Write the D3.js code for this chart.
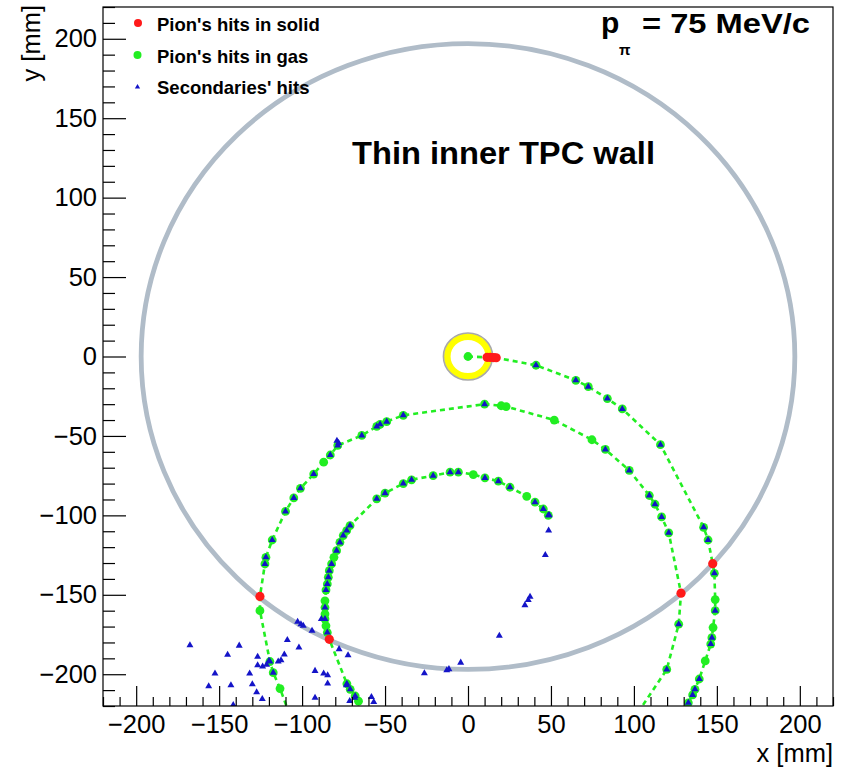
<!DOCTYPE html>
<html><head><meta charset="utf-8">
<script src="https://cdn.jsdelivr.net/npm/d3@7"></script>
<style>body{margin:0;background:#fff}svg{display:block}</style>
</head><body>
<svg id="c" width="850" height="771"></svg>
<script>
// ---------------- data (mm) ----------------
const xDomain = [-220, 220];
const yDomain = [-220, 220];
const xMajorTicks = [-200, -150, -100, -50, 0, 50, 100, 150, 200];
const yMajorTicks = [-200, -150, -100, -50, 0, 50, 100, 150, 200];
const minorStep = 10;

const wallRadius = 197;          // thin inner TPC wall
const beamPipeInner = 10.5;      // inner solid (yellow) ring
const beamPipeOuter = 14.5;

const legendLabels = ["Pion's hits in solid", "Pion's hits in gas", "Secondaries' hits"];
const titleText = "Thin inner TPC wall";
const momentumText = "= 75 MeV/c";

// pion trajectory segments: [x, y, kind]; kind: g = gas hit, t = gas hit + secondary, s = solid hit
const segmentA = [
  [0,0,"g"],[11.5,-0.5,"s"],[13.5,-0.6,"s"],[15.5,-0.7,"s"],[17,-0.8,"s"],
  [41,-5.5,"t"],[65,-15,"t"],[72.5,-19,"t"],[84,-26.5,"t"],[93,-33,"t"],[116,-55.5,"t"],
  [142,-107.5,"t"],[144.7,-115.5,"t"],[147.5,-130.4,"s"],[148.5,-136.5,"t"],[149,-153,"g"],
  [149,-160,"t"],[147.7,-170.6,"g"],[147,-177,"t"],[146.3,-181,"t"],[143,-191.6,"g"],
  [139.4,-203,"t"],[136.8,-209.5,"t"],[135.4,-213,"t"],[132.8,-218,"t"],[131,-224,"g"]
];
const segmentB = [
  [102.5,-224,"g"],[119.8,-197,"t"],[127,-168.5,"t"],[128.4,-149,"s"],[121,-111,"t"],
  [116.7,-101,"t"],[112.7,-93,"t"],[109.3,-87.5,"t"],[97.2,-71.7,"t"],[82.8,-58.5,"t"],
  [74.7,-52.4,"g"],[52,-40,"g"],[23,-31.5,"g"],[20,-31,"g"],[10,-30,"t"],
  [-39,-37,"t"],[-49,-41,"t"],[-53,-42.7,"t"],[-55,-44,"t"],[-64,-49.7,"t"],[-78.5,-56,"t"],
  [-83,-62,"t"],[-87,-66.5,"g"],[-93,-74,"t"],[-101,-83,"t"],[-105,-89,"t"],[-110,-97.5,"t"],
  [-118,-115.5,"t"],[-121.8,-126.4,"t"],[-122.4,-130.6,"t"],[-125.4,-151,"s"],[-125.4,-160,"g"],
  [-119.4,-192,"t"],[-117.4,-199,"t"],[-113.3,-209,"g"],[-108,-224,"g"]
];
const segmentC = [
  [-63,-224,"g"],[-66,-217,"g"],[-68,-213.7,"t"],[-71,-209.5,"t"],[-73,-206,"t"],
  [-83.6,-178,"s"],[-84.8,-173.8,"t"],[-85.6,-169.5,"g"],[-86.2,-165.3,"t"],[-86.2,-162.1,"g"],
  [-86.2,-158,"t"],[-86.2,-153.8,"g"],[-85.6,-147,"t"],[-84.8,-143.2,"t"],[-84.2,-139,"t"],
  [-83.6,-134.8,"t"],[-82.2,-130.6,"t"],[-80.8,-126.4,"g"],[-79.2,-122.2,"t"],[-77.2,-117,"t"],
  [-75.2,-112.7,"t"],[-73.1,-109.6,"t"],[-71.1,-106.4,"t"],
  [-55,-89.6,"t"],[-50,-86,"t"],[-39,-80,"t"],[-34,-77.6,"t"],[-21,-75,"t"],
  [-10.8,-72.8,"t"],[-5.8,-72.8,"t"],[3.2,-74.3,"g"],[10.2,-76.4,"t"],[18.3,-78.5,"t"],
  [25.3,-82.3,"t"],[35.4,-88,"g"],[40.4,-91.7,"t"],[45.4,-96,"t"],[48.4,-100,"t"]
];

// secondaries' hits away from the pion track
const secondaryX = [-79,-78,49,48.6,46.6,37.4,36.3,34.3,18.9,-4.4,-11.5,-12.8,-26.3,
  -167.6,-137.9,-144.9,-152.5,-156.3,-142.9,-141.5,-131.6,-130,-126.8,-126.8,-127.4,-124,
  -123.8,-121.4,-120,-114.4,-112.7,-110.7,-108.9,-101.9,-102.7,-100.7,-99.3,-94,-92.2,-87,
  -84.6,-84.6,-92.2,-88.4,-77.7,-72.3,-73.3,-71.3,-58.2,-56.8,-68.3];
const secondaryY = [-53,-54.5,-100,-109.6,-125,-151.2,-153.3,-156.5,-175.8,-192.7,-196.8,-197.5,-199.4,
  -181.7,-182,-187.8,-199.6,-207.6,-207,-219.4,-199.6,-206.3,-189,-194.3,-211.4,-215.6,
  -195.2,-194.1,-191.6,-192,-191.2,-187.6,-178.4,-183.2,-167,-168.5,-169.5,-172.7,-197.9,-199.6,
  -200.6,-205.9,-214.8,-165.3,-184.2,-188,-207,-216.8,-214.3,-217.5,-214.8];

// ---------------- drawing ----------------
const svg = d3.select("#c");
const W = 850, H = 771;
const plot = {left: 103, right: 833, top: 7, bottom: 706};
const x = d3.scaleLinear().domain(xDomain).range([plot.left, plot.right]);
const y = d3.scaleLinear().domain(yDomain).range([plot.bottom, plot.top]);

const COL_RED = "#ff1a1a", COL_GREEN = "#22ee22", COL_BLUE = "#1414c8";
const COL_WALL = "#b0bcc8";
const font = "'Liberation Sans', Arial, Helvetica, sans-serif";

svg.append("rect").attr("width", W).attr("height", H).attr("fill", "#fff");

svg.append("defs").append("clipPath").attr("id", "clip")
  .append("rect").attr("x", plot.left).attr("y", plot.top)
  .attr("width", plot.right - plot.left).attr("height", plot.bottom - plot.top);

const g = svg.append("g").attr("clip-path", "url(#clip)");

// wall circle (ellipse in pixel space since scales differ)
const rx = r => x(r) - x(0), ry = r => y(0) - y(r);
g.append("ellipse").attr("cx", x(0)).attr("cy", y(0))
  .attr("rx", rx(wallRadius)).attr("ry", ry(wallRadius))
  .attr("fill", "none").attr("stroke", COL_WALL).attr("stroke-width", 4.8);

// inner solid ring
const midR = (beamPipeInner + beamPipeOuter) / 2;
g.append("ellipse").attr("cx", x(0)).attr("cy", y(0))
  .attr("rx", rx(midR)).attr("ry", ry(midR))
  .attr("fill", "none").attr("stroke", "#ffff00")
  .attr("stroke-width", rx(beamPipeOuter - beamPipeInner));
g.append("ellipse").attr("cx", x(0)).attr("cy", y(0))
  .attr("rx", rx(beamPipeOuter) + 0.5).attr("ry", ry(beamPipeOuter) + 0.5)
  .attr("fill", "none").attr("stroke", "#a9a9a9").attr("stroke-width", 1.6);

// dashed trajectory
const segments = [segmentA, segmentB, segmentC];
const line = d3.line().x(d => x(d[0])).y(d => y(d[1]));
segments.forEach(seg => {
  g.append("path").attr("d", line(seg)).attr("fill", "none")
    .attr("stroke", COL_GREEN).attr("stroke-width", 2.6)
    .attr("stroke-dasharray", "5,4");
});

const allHits = segments.flat();
const gasHits = allHits.filter(d => d[2] !== "s");
const solidHits = allHits.filter(d => d[2] === "s");
const secOnTrack = allHits.filter(d => d[2] === "t");
const secOff = secondaryX.map((v, i) => [v, secondaryY[i]]);

g.selectAll("circle.gas").data(gasHits).join("circle").attr("class", "gas")
  .attr("cx", d => x(d[0])).attr("cy", d => y(d[1])).attr("r", 4.4).attr("fill", COL_GREEN);

const tri = d3.symbol().type(d3.symbolTriangle).size(21);
g.selectAll("path.sec").data(secOnTrack.concat(secOff)).join("path").attr("class", "sec")
  .attr("d", tri).attr("transform", d => `translate(${x(d[0])},${y(d[1])})`)
  .attr("fill", COL_BLUE);

g.selectAll("circle.solid").data(solidHits).join("circle").attr("class", "solid")
  .attr("cx", d => x(d[0])).attr("cy", d => y(d[1])).attr("r", 4.6).attr("fill", COL_RED);

// frame
svg.append("rect").attr("x", plot.left).attr("y", plot.top)
  .attr("width", plot.right - plot.left).attr("height", plot.bottom - plot.top)
  .attr("fill", "none").attr("stroke", "#000").attr("stroke-width", 1.2);

// axes
const xMinor = d3.range(xDomain[0], xDomain[1] + 1, minorStep).filter(v => !xMajorTicks.includes(v));
const yMinor = d3.range(yDomain[0], yDomain[1] + 1, minorStep).filter(v => !yMajorTicks.includes(v));

svg.append("g").attr("transform", `translate(0,${plot.bottom})`)
  .call(d3.axisBottom(x).tickValues(xMajorTicks).tickSizeInner(-20).tickSizeOuter(0).tickPadding(9));
svg.append("g").attr("transform", `translate(0,${plot.bottom})`)
  .call(d3.axisBottom(x).tickValues(xMinor).tickSizeInner(-9).tickSizeOuter(0).tickFormat(""));
svg.append("g").attr("transform", `translate(${plot.left},0)`)
  .call(d3.axisLeft(y).tickValues(yMajorTicks).tickSizeInner(-23).tickSizeOuter(0).tickPadding(6));
svg.append("g").attr("transform", `translate(${plot.left},0)`)
  .call(d3.axisLeft(y).tickValues(yMinor).tickSizeInner(-12).tickSizeOuter(0).tickFormat(""));

svg.selectAll(".domain").remove();
svg.selectAll(".tick line").attr("stroke", "#000").attr("stroke-width", 1.2);
svg.selectAll(".tick text").attr("font-family", font).attr("font-size", 25.5).attr("fill", "#000");

// axis titles
svg.append("text").attr("x", plot.right).attr("y", 762).attr("text-anchor", "end")
  .attr("font-family", font).attr("font-size", 25.5).text("x [mm]");
svg.append("text").attr("transform", "translate(40,5) rotate(-90)").attr("text-anchor", "end")
  .attr("font-family", font).attr("font-size", 25.5).text("y [mm]");

// legend
const legendY = [23, 55, 87];
const legendBase = [30.5, 63, 94];
svg.append("circle").attr("cx", 138).attr("cy", legendY[0]).attr("r", 4).attr("fill", COL_RED);
svg.append("circle").attr("cx", 137.5).attr("cy", legendY[1]).attr("r", 4).attr("fill", COL_GREEN);
svg.append("path").attr("d", d3.symbol().type(d3.symbolTriangle).size(12))
  .attr("transform", `translate(137.5,${legendY[2]})`).attr("fill", COL_BLUE);
legendLabels.forEach((t, i) => {
  svg.append("text").attr("x", 157).attr("y", legendBase[i])
    .attr("font-family", font).attr("font-weight", "bold").attr("font-size", 18.5).text(t);
});

// annotations
svg.append("text").attr("x", 352).attr("y", 164)
  .attr("font-family", font).attr("font-weight", "bold").attr("font-size", 32)
  .attr("textLength", 303).attr("lengthAdjust", "spacingAndGlyphs").text(titleText);
svg.append("text").attr("x", 601).attr("y", 33)
  .attr("font-family", font).attr("font-weight", "bold").attr("font-size", 30).text("p");
svg.append("text").attr("x", 619).attr("y", 55)
  .attr("font-family", font).attr("font-weight", "bold").attr("font-size", 15).text("π");
svg.append("text").attr("x", 642).attr("y", 33)
  .attr("font-family", font).attr("font-weight", "bold").attr("font-size", 28)
  .attr("textLength", 168).attr("lengthAdjust", "spacingAndGlyphs").text(momentumText);
</script>
</body></html>
